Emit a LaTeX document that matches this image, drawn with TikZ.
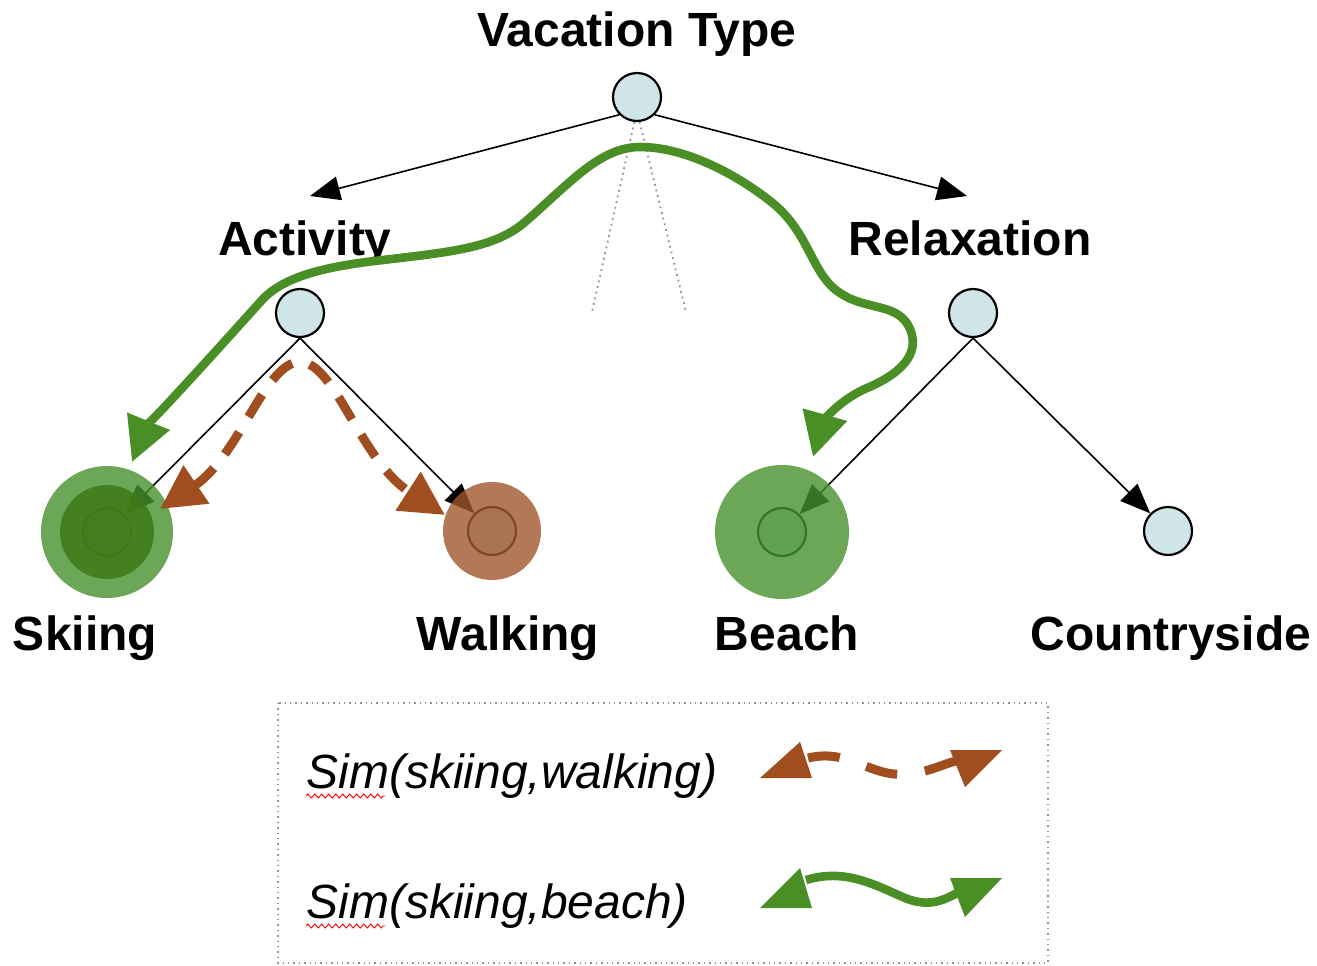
\documentclass[tikz,border=0pt]{standalone}
\usepackage{fontspec}
\setmainfont{Liberation Sans}
\usetikzlibrary{arrows.meta,decorations.pathmorphing}
\definecolor{nodeblue}{RGB}{207,229,232}
\definecolor{simgreen}{RGB}{74,142,38}
\definecolor{simbrown}{RGB}{160,78,32}
\definecolor{halogreen}{RGB}{70,145,45}
\definecolor{coregreen}{RGB}{62,122,22}
\definecolor{halobrown}{RGB}{160,88,45}
\begin{document}
\begin{tikzpicture}[x=0.5pt,y=-0.5pt,
  concept/.style={circle, draw=black, line width=1.1pt, fill=nodeblue, minimum size=24pt, inner sep=0pt},
  lbl/.style={font=\bfseries\fontsize{24}{28}\selectfont, anchor=base, inner sep=0pt},
  legtext/.style={font=\itshape\fontsize{24}{28}\selectfont, anchor=base west, inner sep=0pt},
  tree/.style={draw=black, line width=0.8pt, -{Triangle[length=15pt,width=12pt]}},
  guide/.style={draw=gray!85, dotted, line width=0.9pt},
  halo/.style={circle, draw=none, fill opacity=0.8, inner sep=0pt},
  greenpath/.style={draw=simgreen, line width=4.3pt, {Triangle[length=22pt,width=22pt]}-{Triangle[length=22pt,width=22pt]}},
  brownpath/.style={draw=simbrown, line width=4.5pt, dash pattern=on 13pt off 9pt, {Triangle[length=22pt,width=22pt]}-{Triangle[length=22pt,width=22pt]}},
  spell/.style={draw=red, line width=0.45pt, decorate, decoration={zigzag, amplitude=1pt, segment length=3.5pt}}
]
\useasboundingbox (0,0) rectangle (1317,965);

% concept nodes
\node[concept] (vt) at (637,97) {};
\node[concept] (act) at (300,313) {};
\node[concept] (rel) at (973,313) {};
\node[concept] (ski) at (107,532) {};
\node[concept] (walk) at (492,531) {};
\node[concept] (beach) at (782,532) {};
\node[concept] (cs) at (1168,531) {};

% labels
\node[lbl] (vtL) at (637,46) {Vacation Type};
\node[lbl] (actL) at (305,255) {Activity};
\node[lbl] (relL) at (970,255) {Relaxation};
\node[lbl] (skiL) at (85,650) {Skiing};
\node[lbl] (walkL) at (508,650) {Walking};
\node[lbl] (beachL) at (787,650) {Beach};
\node[lbl] (csL) at (1171,650) {Countryside};

% dotted guides
\coordinate (gl) at (592,312);
\coordinate (gr) at (686,312);
\draw[guide] (vt.-96) -- (gl);
\draw[guide] (vt.-84) -- (gr);

% tree connectors
\coordinate (actTip) at (310,196);
\coordinate (relTip) at (967,196);
\draw[tree] (vt.-135) -- (actTip);
\draw[tree] (vt.-45) -- (relTip);
\draw[tree] (act.south) -- (ski);
\draw[tree] (act.south) -- (walk);
\draw[tree] (rel.south) -- (beach);
\draw[tree] (rel.south) -- (cs);

% halos
\node[halo, fill=halogreen, minimum size=66pt] (skiHalo) at (ski) {};
\node[halo, fill=coregreen, fill opacity=0.85, minimum size=47pt] (skiCore) at (ski) {};
\node[halo, fill=halobrown, minimum size=49pt] (walkHalo) at (walk) {};
\node[halo, fill=halogreen, minimum size=67pt] (beachHalo) at (beach) {};

% similarity paths
\draw[greenpath] (132,462) .. controls (145,430) and (235,330) .. (262,300)
  .. controls (285,275) and (330,266) .. (383,260)
  .. controls (450,252) and (495,248) .. (525,222)
  .. controls (570,183) and (600,147) .. (640,147)
  .. controls (690,147) and (745,180) .. (775,205)
  .. controls (810,235) and (812,275) .. (840,293)
  .. controls (865,310) and (895,303) .. (908,325)
  .. controls (922,350) and (905,372) .. (867,388)
  .. controls (835,402) and (822,425) .. (813,457);
\draw[brownpath] (160,509) .. controls (240,455) and (265,362) .. (300,362)
  .. controls (335,362) and (360,460) .. (445,515);

% legend
\draw[guide, line width=0.7pt] (278,703) rectangle (1048,963);
\node[legtext] (leg1) at (306,788) {Sim(skiing,walking)};
\node[legtext] (leg2) at (306,918) {Sim(skiing,beach)};
\draw[spell] (306,796) -- (385,796);
\draw[spell] (306,926) -- (385,926);

% legend glyphs: brown dashed
\draw[draw=simbrown, line width=4.5pt, dash pattern=on 16pt off 14pt]
  (808,758) .. controls (850,748) and (870,778) .. (908,774)
  .. controls (935,771) and (945,762) .. (962,760);
\fill[simbrown] (760,778) -- (812,778) -- (800,742) -- cycle;
\fill[simbrown] (950,750) -- (1002,750) -- (965,787) -- cycle;
% legend glyphs: green solid
\draw[draw=simgreen, line width=4.3pt]
  (806,880) .. controls (845,868) and (875,885) .. (905,898)
  .. controls (930,908) and (945,900) .. (962,890);
\fill[simgreen] (760,908) -- (812,908) -- (800,868) -- cycle;
\fill[simgreen] (950,878) -- (1002,878) -- (965,917) -- cycle;
\end{tikzpicture}
\end{document}
